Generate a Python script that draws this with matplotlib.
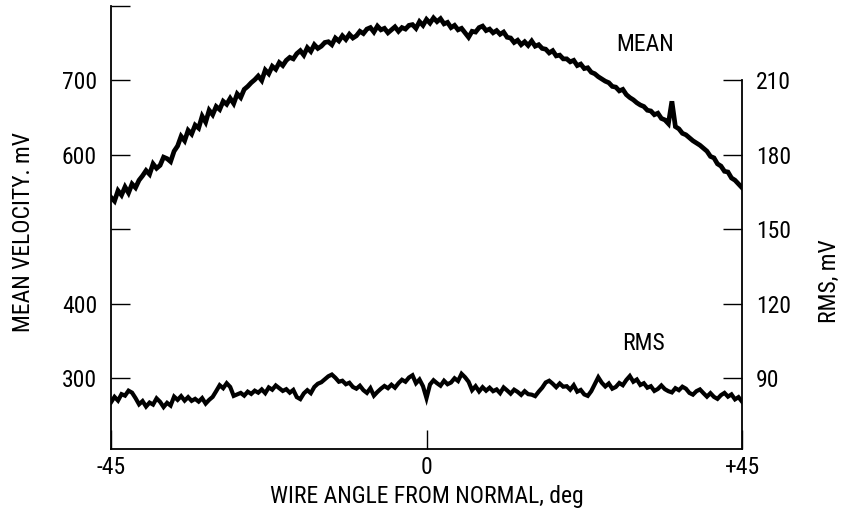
import numpy as np
import matplotlib
matplotlib.use("Agg")
import matplotlib.pyplot as plt
from matplotlib import font_manager

# pick a narrow face if one is installed
names = {f.name for f in font_manager.fontManager.ttflist}
narrow = [n for n in ['Liberation Sans Narrow', 'DejaVu Sans Condensed',
                      'Roboto Condensed', 'Open Sans Condensed',
                      'Noto Sans Condensed'] if n in names]
plt.rcParams['font.family'] = narrow + ['DejaVu Sans']

# mean velocity trace, mV, read every 0.5 deg from -45 to +45
mean_mv = [
    543, 538, 552, 546, 557, 549, 561, 556, 566, 572,
    579, 574, 588, 582, 586, 597, 595, 591, 605, 612,
    625, 619, 633, 628, 640, 636, 652, 644, 660, 654,
    665, 661, 672, 668, 676, 669, 682, 677, 688, 692,
    697, 701, 706, 700, 714, 709, 719, 715, 724, 720,
    727, 731, 729, 736, 740, 734, 744, 739, 748, 743,
    746, 751, 752, 748, 757, 753, 760, 755, 762, 757,
    760, 766, 763, 769, 771, 765, 773, 768, 770, 764,
    768, 772, 766, 771, 769, 774, 775, 770, 779, 774,
    782, 777, 784, 779, 783, 776, 778, 771, 774, 768,
    770, 764, 758, 766, 765, 771, 773, 767, 769, 764,
    767, 762, 765, 758, 757, 751, 754, 748, 752, 747,
    753, 746, 748, 743, 742, 737, 740, 733, 734, 729,
    729, 725, 727, 720, 722, 716, 717, 711, 709, 705,
    702, 699, 697, 692, 691, 686, 688, 681, 677, 674,
    670, 667, 665, 660, 659, 654, 656, 649, 647, 642,
    672, 638, 635, 629, 627, 623, 619, 616, 613, 609,
    605, 598, 596, 588, 585, 578, 577, 569, 566, 561,
    556,
]

# rms trace, mV (right axis), same angles
rms_mv = [
    80.3, 82.5, 81.0, 83.6, 83.0, 85.0, 84.2, 82.0, 79.5, 80.8,
    78.6, 80.2, 79.4, 81.9, 80.5, 78.4, 80.1, 79.0, 82.6, 81.3,
    82.8, 81.0, 82.4, 80.9, 81.7, 80.6, 82.0, 79.8, 81.3, 82.5,
    84.8, 87.2, 86.0, 88.0, 86.5, 82.9, 83.5, 84.1, 83.0, 84.6,
    83.7, 85.0, 84.2, 85.5, 84.0, 86.3, 85.4, 87.1, 86.0, 84.9,
    85.6, 84.2, 85.3, 82.4, 81.6, 83.9, 85.2, 84.0, 86.5, 87.8,
    88.4, 89.6, 90.8, 91.5, 90.2, 88.6, 89.0, 87.6, 88.2, 86.5,
    85.8, 87.0, 85.2, 84.1, 86.0, 83.0, 84.5, 85.8, 86.9, 86.0,
    87.4, 86.2, 88.0, 89.4, 88.6, 90.3, 91.2, 88.0, 89.5, 86.8,
    82.0, 87.5, 89.2, 88.0, 87.0, 89.0, 87.6, 88.3, 90.0, 88.9,
    91.8, 90.4, 88.6, 85.2, 86.8, 84.7, 86.4, 85.0, 86.2, 84.8,
    85.5, 84.0, 86.3, 85.1, 83.8, 85.4, 84.5, 83.3, 84.8, 83.6,
    83.4, 82.8, 84.6, 86.2, 88.3, 89.0, 87.8, 86.4, 87.9, 86.6,
    86.8, 85.4, 87.2, 84.6, 85.3, 83.5, 82.9, 84.8, 87.6, 90.4,
    88.2, 86.7, 87.9, 85.8, 86.5, 88.1, 87.2, 89.3, 90.9, 88.6,
    89.5, 87.3, 88.0, 86.2, 86.8, 84.9, 85.7, 87.1, 85.6, 84.8,
    84.3, 86.0, 85.2, 86.6, 85.8, 84.1, 83.4, 84.8, 85.5, 84.0,
    82.6, 84.0, 82.5, 81.7, 83.2, 84.1, 82.6, 83.5, 81.5, 82.4,
    80.6,
]

angle = np.linspace(-45, 45, len(mean_mv))

left_ticks = [300, 400, 500, 600, 700, 800]
left_labels = ['300', '400', '', '600', '700', '']
right_ticks = [90, 120, 150, 180, 210]
x_ticks = [-45, 0, 45]
x_labels = ['-45', '0', '+45']

fs = 17 if narrow else 15

fig = plt.figure(figsize=(8.42, 5.18), dpi=100)
ax = fig.add_axes([111/842, 1 - 449/518, 631/842, 443/518])
ax2 = ax.twinx()

ax.plot(angle, mean_mv, color='black', lw=3.4, solid_joinstyle='miter')
ax2.plot(angle, rms_mv, color='black', lw=3.0, solid_joinstyle='miter')

ax.set_xlim(-45, 45)
ax.set_ylim(205, 800)
# rms axis: 90 <-> 300 mV, 210 <-> 700 mV
ax2.set_ylim(90 + (205 - 300) * 0.3, 90 + (800 - 300) * 0.3)

for a in (ax, ax2):
    a.spines['top'].set_visible(False)
    for s in a.spines.values():
        s.set_linewidth(1.3)
ax.spines['right'].set_visible(False)
ax2.spines['left'].set_visible(False)
ax2.spines['bottom'].set_visible(False)
ax2.spines['right'].set_bounds(90 + (205 - 300) * 0.3, 210)

ax.set_yticks(left_ticks)
ax.set_yticklabels(left_labels)
ax2.set_yticks(right_ticks)
ax.set_xticks(x_ticks)
ax.set_xticklabels(x_labels)

ax.tick_params(axis='y', direction='in', length=14, width=1.0, pad=10, labelsize=fs)
ax2.tick_params(axis='y', direction='in', length=14, width=1.0, pad=10, labelsize=fs)
ax.tick_params(axis='x', direction='in', length=14, width=1.0, pad=5, labelsize=fs)

ax.set_xlabel('WIRE ANGLE FROM NORMAL, deg', fontsize=fs, labelpad=4)
ax.set_ylabel('MEAN VELOCITY. mV', fontsize=fs, labelpad=8)
ax.yaxis.set_label_coords(-0.12, 0.49)
ax2.set_ylabel('RMS, mV', fontsize=fs)
ax2.yaxis.set_label_coords(1.12, 0.38)

ax.text(31.2, 748, 'MEAN', fontsize=fs, ha='center', va='center')
ax2.text(31.0, 104, 'RMS', fontsize=fs, ha='center', va='center')

fig.savefig('out.png', dpi=100)
